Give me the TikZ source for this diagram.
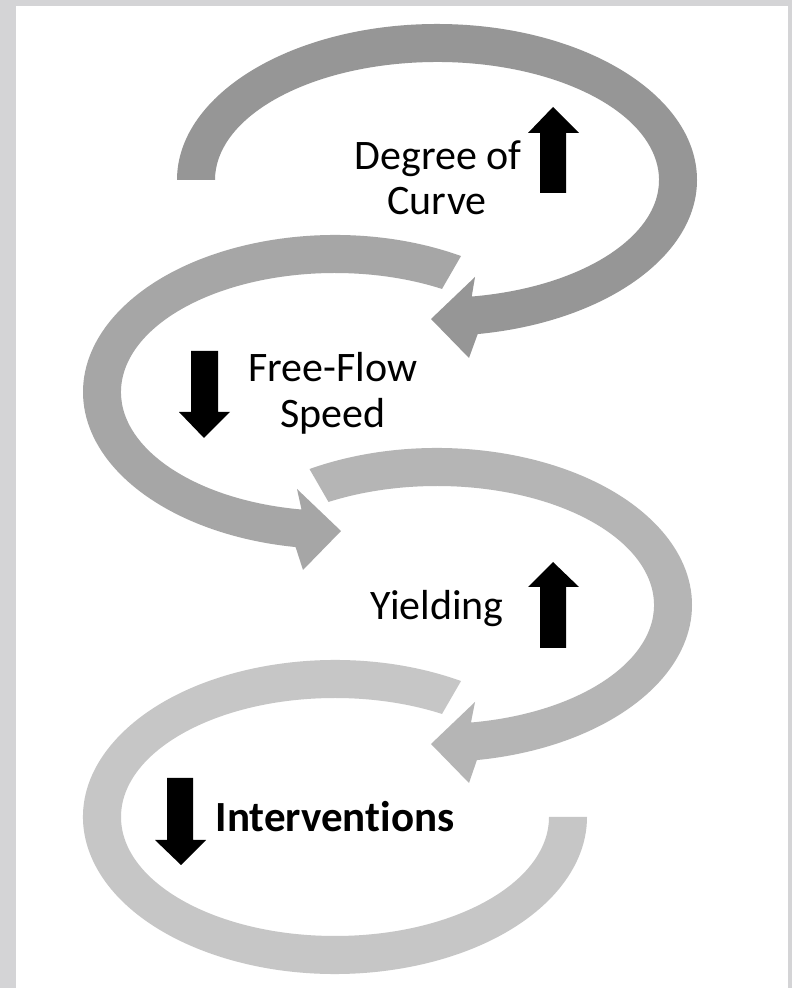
\documentclass[tikz,border=0pt]{standalone}
\usepackage{fontspec}
\setmainfont{Carlito}[Ligatures=NoCommon]
\definecolor{frameGray}{HTML}{D4D4D6}
\definecolor{loopA}{HTML}{969696}
\definecolor{loopB}{HTML}{A6A6A6}
\definecolor{loopC}{HTML}{B5B5B5}
\definecolor{loopD}{HTML}{C6C6C6}
\begin{document}
\begin{tikzpicture}[x=1pt,y=1pt,
  lbl/.style={font=\fontsize{42}{46}\selectfont,inner sep=0pt,anchor=base},
  bigarrow/.style={fill=black}]
  \useasboundingbox (0,0) rectangle (792,988);
  % --- frame ---
  \fill[frameGray] (0,0) rectangle (792,988);
  \fill[white] (16,0) rectangle (788,982);
  % --- loop 1: Degree of Curve ---
  \begin{scope}[shift={(437,808)}]
    \fill[loopA] (180:260 and 156) arc[start angle=180,end angle=-81,x radius=260,y radius=156]
      -- (32,-178) -- (-6,-139) -- (38,-97)
      -- (-81:222 and 118) arc[start angle=-81,end angle=180,x radius=222,y radius=118] -- cycle;
  \end{scope}
  % --- loop 2: Free-Flow Speed ---
  \begin{scope}[shift={(335,596)}]
    \fill[loopB] (60:252 and 157) arc[start angle=60,end angle=261,x radius=252,y radius=157]
      -- (-32,-178) -- (6,-139) -- (-38,-97)
      -- (261:214 and 119) arc[start angle=261,end angle=60,x radius=214,y radius=119] -- cycle;
  \end{scope}
  % --- loop 3: Yielding ---
  \begin{scope}[shift={(437,383)}]
    \fill[loopC] (120:255 and 157) arc[start angle=120,end angle=-81,x radius=255,y radius=157]
      -- (32,-178) -- (-6,-139) -- (38,-97)
      -- (-81:217 and 119) arc[start angle=-81,end angle=120,x radius=217,y radius=119] -- cycle;
  \end{scope}
  % --- loop 4: Interventions ---
  \begin{scope}[shift={(335,171)}]
    \fill[loopD] (60:252 and 157) arc[start angle=60,end angle=360,x radius=252,y radius=157]
      -- (0:214 and 119) arc[start angle=360,end angle=60,x radius=214,y radius=119] -- cycle;
  \end{scope}
  % --- up / down arrows ---
  \fill[bigarrow] (553,881) -- (579,855) -- (566,855) -- (566,795) -- (540,795) -- (540,855) -- (528,855) -- cycle;
  \fill[bigarrow] (204,550) -- (230,576) -- (218,576) -- (218,637) -- (191,637) -- (191,576) -- (179,576) -- cycle;
  \fill[bigarrow] (553,426) -- (579,401) -- (566,401) -- (566,340) -- (540,340) -- (540,401) -- (528,401) -- cycle;
  \fill[bigarrow] (181,123) -- (206,148) -- (193,148) -- (193,210) -- (167,210) -- (167,148) -- (155,148) -- cycle;
  % --- labels ---
  \node[lbl] (degree) at (438,818) {Degree of};
  \node[lbl] (curve) at (437,773) {Curve};
  \node[lbl] (freeflow) at (333,606) {Free-Flow};
  \node[lbl] (speed) at (333,560) {Speed};
  \node[lbl] (yielding) at (437,368) {Yielding};
  \node[lbl,font=\fontsize{43}{46}\selectfont\bfseries] (interv) at (335,156) {Interventions};
\end{tikzpicture}
\end{document}
